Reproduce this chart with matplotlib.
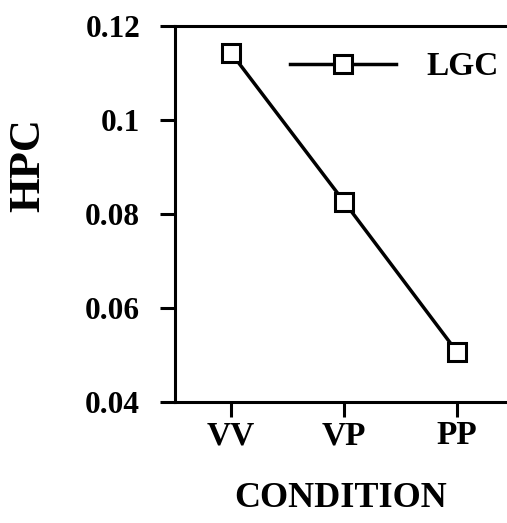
import numpy as np
import matplotlib
matplotlib.use("Agg")
import matplotlib.pyplot as plt

plt.rcParams['font.family'] = ['Liberation Serif', 'DejaVu Serif']
plt.rcParams['font.weight'] = 'bold'

conditions = ["VV", "VP", "PP"]
hpc = [0.1143, 0.0826, 0.0506]
yticks = [0.04, 0.06, 0.08, 0.1, 0.12]
ytick_labels = ["0.04", "0.06", "0.08", "0.1", "0.12"]

fig = plt.figure(figsize=(5.07, 5.23), dpi=100)
ax = fig.add_axes([0.345, 0.2314, 0.655, 0.7189])

x = np.arange(1, len(conditions) + 1)
ax.plot(x, hpc, color="black", linewidth=2.5, marker="s", markersize=13,
        markerfacecolor="white", markeredgecolor="black", markeredgewidth=2.2,
        label="LGC", clip_on=False)

ax.set_xlim(0.504, 3.44)
ax.set_ylim(0.04, 0.12)
ax.set_xticks(x)
ax.set_xticklabels(conditions, fontsize=24, fontweight="bold")
ax.set_yticks(yticks)
ax.set_yticklabels(ytick_labels, fontsize=22.5, fontweight="bold")

ax.spines["right"].set_visible(False)
for s in ["left", "bottom", "top"]:
    ax.spines[s].set_linewidth(2.2)
ax.tick_params(axis="y", length=11, width=2.2, pad=14)
ax.tick_params(axis="x", length=11, width=2.2, pad=2)

ax.set_xlabel("CONDITION", fontsize=26, fontweight="bold", labelpad=22)
ax.set_ylabel("HPC", fontsize=32, fontweight="bold", va="center", ha="center")
ax.yaxis.set_label_coords((28 - 175) / 332, (402 - 165) / 376)

ax.legend(loc="center left", bbox_to_anchor=(0.346, 0.891), frameon=False,
          fontsize=24, handlelength=3.2, handletextpad=0.9,
          borderpad=0, borderaxespad=0)

fig.savefig("out.png", dpi=100)
